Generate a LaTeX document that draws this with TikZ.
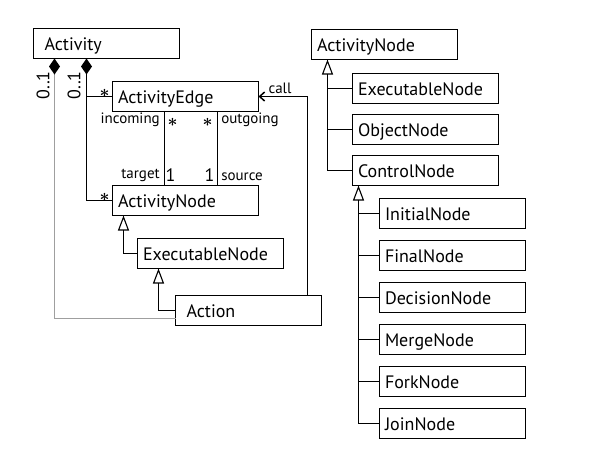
\documentclass[tikz,border=0pt]{standalone}
\usepackage{fontspec}
\setmainfont{PT Sans}
\usetikzlibrary{arrows.meta,positioning,calc}

\begin{document}
\begin{tikzpicture}[x=1pt, y=-1pt, line width=1.5pt, node distance=12pt,
  >={Straight Barb[length=5pt,width=9pt]}]
\tikzstyle{cls}=[draw=black, line width=1.5pt, outer sep=0pt, minimum width=146pt, minimum height=30pt, inner xsep=5.5pt, inner ysep=0pt, text width=135pt, align=left, text height=13pt, text depth=0pt, font=\fontsize{18}{20}\selectfont]
\tikzstyle{wide}=[inner xsep=11pt, text width=124pt]
\tikzstyle{role}=[inner sep=0pt, font=\fontsize{15}{17}\selectfont]
\tikzstyle{mult}=[inner sep=0pt, font=\fontsize{18}{20}\selectfont]
\tikzstyle{many}=[inner sep=0pt, text height=9pt, text depth=0pt, font=\fontsize{19}{19}\selectfont\boldmath]
\tikzstyle{gen}=[-{Triangle[fill=white,length=15pt,width=11pt,line width=1.1pt]}]
\tikzstyle{compo}=[{Diamond[length=16pt,width=11pt,color=black]}-]
\useasboundingbox (0,0) rectangle (591,464);

% activities
\node[cls, wide] (activity) at (106.5,43.5) {Activity};
\node[cls] (edge)     at (185.5,96.5) {ActivityEdge};
\node[cls] (anodeL)   at (185.5,200.5) {ActivityNode};
\node[cls] (execL)    at (210.5,253.5) {ExecutableNode};
\node[cls, wide] (action) at (248.5,310.5) {Action};

\coordinate (ownA) at ($(activity.south west)+(21,0)$);
\coordinate (ownB) at ($(activity.south west)+(53,0)$);
\draw[compo, gray!75] (ownA) |- ($(action.south west)+(0,-7)$);
\draw[compo] (ownB) |- (anodeL.west);
\draw (edge.west) -- (edge.west -| ownB);
\node[mult, rotate=90] (multA) at ($(ownA)+(-11.5,27)$) {0..1};
\node[mult, rotate=90] (multB) at ($(ownB)+(-12.5,27)$) {0..1};
\node[many] (manyE) at ($(edge.west)+(-8,-4)$) {$\ast$};
\node[many] (manyN) at ($(anodeL.west)+(-8,-4)$) {$\ast$};

% incoming / outgoing
\draw ($(edge.south west)+(52,0)$) -- ($(anodeL.north west)+(52,0)$);
\draw ($(edge.south west)+(105,0)$) -- ($(anodeL.north west)+(105,0)$);
\node[role, anchor=east] (incoming) at ($(edge.south west)+(48,8)$) {incoming};
\node[many] (manyIn) at ($(edge.south west)+(60,10)$) {$\ast$};
\node[many] (manyOut) at ($(edge.south west)+(95,10)$) {$\ast$};
\node[role, anchor=west] (outgoing) at ($(edge.south west)+(108,8.5)$) {outgoing};
\node[role, anchor=east] (target) at ($(anodeL.north west)+(48,-10)$) {target};
\node[mult] (oneT) at ($(anodeL.north west)+(58,-10)$) {1};
\node[mult] (oneS) at ($(anodeL.north west)+(97,-10)$) {1};
\node[role, anchor=west] (source) at ($(anodeL.north west)+(108,-9)$) {source};

% call
\draw[->] ($(action.north west)+(132,0)$) |- (edge.east);
\node[role] (call) at ($(edge.east)+(21.5,-8)$) {call};

\draw[gen] (execL.west) -| ($(anodeL.south west)+(11,0)$);
\draw[gen] (action.west) -| ($(execL.south west)+(21,0)$);

% node kinds
\node[cls] (anodeR) at (384.5,44.5) {ActivityNode};
\node[cls] (execR)  at (425.5,88.5) {ExecutableNode};
\node[cls, below=11pt of execR] (objR) {ObjectNode};
\node[cls, below=11pt of objR]  (ctrl) {ControlNode};
\node[cls] (initial) at (452.5,213.5) {InitialNode};
\node[cls, below=of initial]  (final)    {FinalNode};
\node[cls, below=of final]    (decision) {DecisionNode};
\node[cls, below=of decision] (merge)    {MergeNode};
\node[cls, below=of merge]    (fork)     {ForkNode};
\node[cls, below=of fork]     (join)     {JoinNode};

\coordinate (genR) at ($(anodeR.south west)+(16,0)$);
\draw[gen] (ctrl.west) -| (genR);
\foreach \n in {execR,objR}
  \draw (\n.west) -- (\n.west -| genR);
\coordinate (genC) at ($(ctrl.south west)+(6,0)$);
\draw[gen] (join.west) -| (genC);
\foreach \n in {initial,final,decision,merge,fork}
  \draw (\n.west) -- (\n.west -| genC);
\end{tikzpicture}
\end{document}
